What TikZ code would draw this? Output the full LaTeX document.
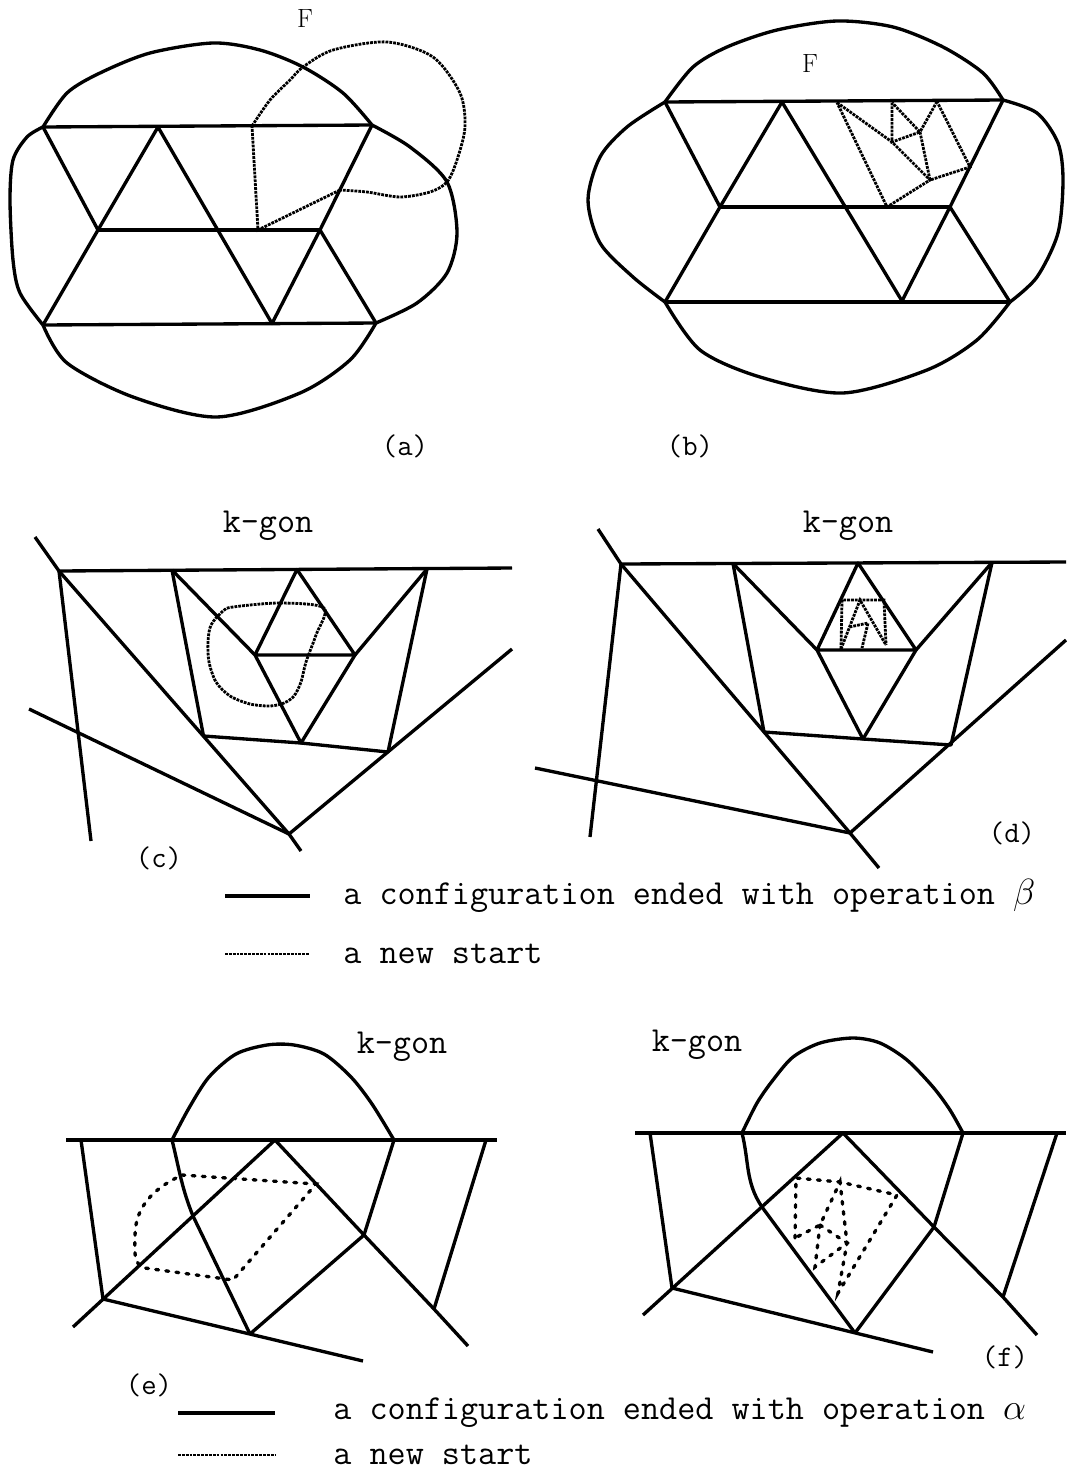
\documentclass[tikz,border=0pt]{standalone}
\usepackage{tikz}
\usetikzlibrary{positioning}
\tikzset{
  cfgedge/.style={line width=1.9pt,line join=round},
  newedge/.style={line width=1.6pt,dash pattern=on 1.6pt off 0.6pt},
  newdash/.style={line width=1.9pt,dash pattern=on 1.6pt off 4.2pt,line cap=round},
  txtnode/.style={font=\ttfamily\fontsize{20}{24}\selectfont,inner sep=0pt},
  subnode/.style={font=\ttfamily\fontsize{17}{20}\selectfont,inner sep=0pt},
  facenode/.style={font=\rmfamily\fontsize{15}{18}\selectfont,inner sep=0pt},
}
\begin{document}
\begin{tikzpicture}
  \useasboundingbox (0,0) rectangle (21.32,-29.50);
  % (a)
  \coordinate (aTL) at (0.86,-2.54);
  \coordinate (aTR) at (7.44,-2.50);
  \coordinate (aBL) at (0.86,-6.50);
  \coordinate (aBR) at (7.52,-6.46);
  \coordinate (aT1) at (3.16,-2.54);
  \coordinate (aT2) at (5.04,-2.52);
  \coordinate (aM1) at (1.96,-4.60);
  \coordinate (aM3) at (6.40,-4.60);
  \coordinate (aD) at (5.16,-4.60);
  \coordinate (aB1) at (5.44,-6.47);
  \coordinate (aX) at (6.80,-3.80);
  \draw[cfgedge] (aTL) -- (aTR);
  \draw[cfgedge] (aM1) -- (aM3);
  \draw[cfgedge] (aBL) -- (aBR);
  \draw[cfgedge] (aTL) -- (aM1) -- (aT1) -- (aB1) -- (aM3) -- (aTR);
  \draw[cfgedge] (aM1) -- (aBL);
  \draw[cfgedge] (aM3) -- (aBR);
  \draw[cfgedge] plot[smooth] coordinates {(aTL) (1.34,-1.86) (2.00,-1.46) (3.00,-1.06) (4.26,-0.86) (5.20,-1.00) (6.06,-1.34) (6.86,-1.86) (aTR)};
  \draw[cfgedge] plot[smooth] coordinates {(aTR) (8.20,-2.94) (8.94,-3.64) (9.14,-4.66) (8.94,-5.46) (8.34,-6.06) (aBR)};
  \draw[cfgedge] plot[smooth] coordinates {(aBR) (7.00,-7.20) (6.00,-7.86) (4.34,-8.34) (2.66,-7.94) (1.34,-7.26) (aBL)};
  \draw[cfgedge] plot[smooth] coordinates {(aBL) (0.40,-5.86) (0.26,-5.20) (0.20,-4.00) (0.26,-3.20) (0.54,-2.74) (aTL)};
  \draw[newedge] plot[smooth] coordinates {(aT2) (5.40,-2.00) (5.80,-1.60) (6.06,-1.34) (6.66,-1.00) (7.74,-0.84) (8.66,-1.14) (9.20,-1.86) (9.30,-2.54) (9.14,-3.20) (8.94,-3.64) (8.60,-3.84) (8.00,-3.94) (7.34,-3.84) (aX)};
  \draw[newedge] (aX) -- (aD) -- (aT2);
  \node[facenode] (aF) at (6.10,-0.38) {F};
  \node[subnode] (alab) at (8.10,-8.92) {(a)};
  % (b)
  \coordinate (bTL) at (13.30,-2.04);
  \coordinate (bTR) at (20.06,-2.00);
  \coordinate (bBL) at (13.30,-6.04);
  \coordinate (bBR) at (20.20,-6.04);
  \coordinate (bT1) at (15.64,-2.04);
  \coordinate (bM1) at (14.40,-4.14);
  \coordinate (bM3) at (19.00,-4.14);
  \coordinate (bB1) at (18.04,-6.02);
  \draw[cfgedge] (bTL) -- (bTR);
  \draw[cfgedge] (bM1) -- (bM3);
  \draw[cfgedge] (bBL) -- (bBR);
  \draw[cfgedge] (bTL) -- (bM1) -- (bT1) -- (bB1) -- (bM3) -- (bTR);
  \draw[cfgedge] (bM1) -- (bBL);
  \draw[cfgedge] (bM3) -- (bBR);
  \draw[cfgedge] plot[smooth] coordinates {(bTL) (13.86,-1.34) (14.54,-0.94) (15.54,-0.60) (16.74,-0.42) (17.86,-0.54) (18.86,-0.94) (19.66,-1.46) (bTR)};
  \draw[cfgedge] plot[smooth] coordinates {(bTL) (12.54,-2.54) (12.00,-3.14) (11.76,-4.00) (12.00,-4.86) (12.66,-5.54) (bBL)};
  \draw[cfgedge] plot[smooth] coordinates {(bTR) (20.74,-2.26) (21.16,-2.86) (21.26,-3.60) (21.16,-4.66) (20.74,-5.54) (bBR)};
  \draw[cfgedge] plot[smooth] coordinates {(bBR) (19.54,-6.80) (18.54,-7.40) (16.86,-7.86) (15.20,-7.54) (14.00,-7.00) (bBL)};
  \coordinate (bP1) at (16.74,-2.05);
  \coordinate (bP2) at (17.84,-2.05);
  \coordinate (bP3) at (18.74,-2.03);
  \coordinate (bQ1) at (17.84,-2.84);
  \coordinate (bQ2) at (18.40,-2.64);
  \coordinate (bR1) at (18.60,-3.60);
  \coordinate (bR2) at (19.40,-3.34);
  \coordinate (bS) at (17.74,-4.14);
  \draw[newedge] (bP1) -- (bQ1) -- (bR1) -- (bS) -- (bP1);
  \draw[newedge] (bP2) -- (bQ1) -- (bQ2) -- (bP2);
  \draw[newedge] (bP3) -- (bQ2) -- (bR1) -- (bR2) -- (bP3);
  \node[facenode] (bF) at (16.20,-1.28) {F};
  \node[subnode] (blab) at (13.80,-8.92) {(b)};
  % (c)
  \coordinate (cS) at (0.70,-10.74);
  \coordinate (cV1) at (1.18,-11.42);
  \coordinate (cE) at (10.24,-11.36);
  \coordinate (cLB) at (1.82,-16.82);
  \coordinate (cVb) at (5.78,-16.68);
  \coordinate (cVx) at (6.02,-17.02);
  \coordinate (cRE) at (10.24,-12.98);
  \coordinate (cLS) at (0.58,-14.18);
  \coordinate (cV2) at (3.44,-11.40);
  \coordinate (cW1) at (4.07,-14.72);
  \coordinate (cV3) at (5.94,-11.39);
  \coordinate (cL) at (5.10,-13.10);
  \coordinate (cR) at (7.10,-13.10);
  \coordinate (cW2) at (6.02,-14.86);
  \coordinate (cV4) at (8.54,-11.38);
  \coordinate (cW3) at (7.76,-15.04);
  \draw[cfgedge] (cS) -- (cV1) -- (cE);
  \draw[cfgedge] (cV1) -- (cLB);
  \draw[cfgedge] (cV1) -- (cVb) -- (cVx);
  \draw[cfgedge] (cLS) -- (cVb) -- (cRE);
  \draw[cfgedge] (cV2) -- (cW1) -- (cW2) -- (cW3) -- (cV4);
  \draw[cfgedge] (cV2) -- (cL) -- (cW2) -- (cR) -- (cV4);
  \draw[cfgedge] (cL) -- (cV3) -- (cR) -- (cL);
  \draw[newedge] plot[smooth cycle] coordinates {(4.66,-12.14) (5.60,-12.06) (6.48,-12.16) (6.32,-12.70) (6.12,-13.24) (6.02,-13.64) (5.88,-13.92) (5.68,-14.06) (5.40,-14.12) (5.00,-14.08) (4.60,-13.92) (4.32,-13.64) (4.18,-13.24) (4.16,-12.84) (4.22,-12.50) (4.46,-12.22)};
  \node[txtnode] (ckgon) at (5.36,-10.52) {k-gon};
  \node[subnode] (clab) at (3.18,-17.16) {(c)};
  % (d)
  \coordinate (dS) at (11.96,-10.58);
  \coordinate (dV1) at (12.42,-11.28);
  \coordinate (dE) at (21.32,-11.24);
  \coordinate (dLB) at (11.80,-16.74);
  \coordinate (dVb) at (17.00,-16.66);
  \coordinate (dVx) at (17.58,-17.36);
  \coordinate (dRE) at (21.32,-12.80);
  \coordinate (dLS) at (10.70,-15.36);
  \coordinate (dV2) at (14.66,-11.27);
  \coordinate (dW1) at (15.28,-14.64);
  \coordinate (dV3) at (17.16,-11.26);
  \coordinate (dL) at (16.34,-13.00);
  \coordinate (dR) at (18.32,-13.00);
  \coordinate (dW2) at (17.26,-14.78);
  \coordinate (dV4) at (19.84,-11.25);
  \coordinate (dW3) at (19.02,-14.90);
  \draw[cfgedge] (dS) -- (dV1) -- (dE);
  \draw[cfgedge] (dV1) -- (dLB);
  \draw[cfgedge] (dV1) -- (dVb) -- (dVx);
  \draw[cfgedge] (dLS) -- (dVb) -- (dRE);
  \draw[cfgedge] (dV2) -- (dW1) -- (dW2) -- (dW3) -- (dV4);
  \draw[cfgedge] (dV2) -- (dL) -- (dW2) -- (dR) -- (dV4);
  \draw[cfgedge] (dL) -- (dV3) -- (dR) -- (dL);
  \coordinate (dTL) at (16.84,-12.00);
  \coordinate (dTR) at (17.68,-12.00);
  \coordinate (dBL) at (16.82,-12.98);
  \coordinate (dBR) at (17.72,-12.90);
  \coordinate (da) at (17.20,-12.00);
  \coordinate (db) at (17.36,-12.46);
  \coordinate (dc) at (17.24,-12.96);
  \coordinate (df) at (16.99,-12.54);
  \draw[newedge] (dBL) -- (dTL) -- (dTR) -- (dBR);
  \draw[newedge] (dBL) -- (da) -- (dBR);
  \draw[newedge] (df) -- (db) -- (dc);
  \node[txtnode] (dkgon) at (16.96,-10.52) {k-gon};
  \node[subnode] (dlab) at (20.24,-16.66) {(d)};
  % legend beta
  \coordinate (lb1) at (4.50,-17.92);
  \coordinate (lb2) at (6.20,-17.92);
  \coordinate (lb3) at (4.50,-19.08);
  \coordinate (lb4) at (6.20,-19.08);
  \draw[cfgedge] (lb1) -- (lb2);
  \draw[newedge] (lb3) -- (lb4);
  \node[txtnode,anchor=west] (lbt1) at (6.86,-17.92) {a configuration ended with operation $\beta$};
  \node[txtnode,anchor=west] (lbt2) at (6.86,-19.08) {a new start};
  % (e)
  \coordinate (eS) at (1.32,-22.80);
  \coordinate (eE) at (9.94,-22.80);
  \coordinate (eAL) at (3.44,-22.80);
  \coordinate (eAR) at (7.88,-22.80);
  \coordinate (eLV) at (1.62,-22.80);
  \coordinate (eP) at (2.06,-25.98);
  \coordinate (eStub) at (1.46,-26.54);
  \coordinate (eQ) at (5.50,-22.80);
  \coordinate (eX1) at (3.86,-24.32);
  \coordinate (eB) at (5.00,-26.68);
  \coordinate (eBE) at (7.26,-27.22);
  \coordinate (eC) at (7.28,-24.70);
  \coordinate (eD) at (8.68,-26.18);
  \coordinate (eDE) at (9.36,-26.92);
  \coordinate (eRV) at (9.72,-22.80);
  \draw[cfgedge] (eS) -- (eE);
  \draw[cfgedge] plot[smooth] coordinates {(eAL) (3.78,-22.16) (4.18,-21.54) (4.72,-21.08) (5.34,-20.90) (5.88,-20.90) (6.48,-21.08) (7.02,-21.54) (7.44,-22.08) (eAR)};
  \draw[cfgedge] (eLV) -- (eP);
  \draw[cfgedge] (eQ) -- (eStub);
  \draw[cfgedge] (eP) -- (eBE);
  \draw[cfgedge] (eAL) to[out=-76,in=112] (eX1) -- (eB);
  \draw[cfgedge] (eQ) -- (eC) -- (eD) -- (eDE);
  \draw[cfgedge] (eAR) -- (eC) -- (eB);
  \draw[cfgedge] (eRV) -- (eD);
  \coordinate (ed1) at (3.64,-23.50);
  \coordinate (ed2) at (6.32,-23.68);
  \coordinate (ed3) at (4.66,-25.60);
  \coordinate (ed4) at (2.90,-25.36);
  \draw[newdash] (ed1) -- (ed2) -- (ed3) -- (ed4) to[out=165,in=-90] (2.70,-24.72) to[out=90,in=205] (ed1);
  \node[txtnode] (ekgon) at (8.04,-20.94) {k-gon};
  \node[subnode] (elab) at (2.98,-27.70) {(e)};
  % (f)
  \coordinate (fS) at (12.70,-22.66);
  \coordinate (fE) at (21.32,-22.66);
  \coordinate (fAL) at (14.84,-22.66);
  \coordinate (fAR) at (19.26,-22.66);
  \coordinate (fLV) at (13.00,-22.66);
  \coordinate (fP) at (13.44,-25.76);
  \coordinate (fStub) at (12.86,-26.30);
  \coordinate (fQ) at (16.86,-22.66);
  \coordinate (fX1) at (15.24,-24.14);
  \coordinate (fB) at (17.10,-26.66);
  \coordinate (fBE) at (18.66,-27.04);
  \coordinate (fC) at (18.68,-24.54);
  \coordinate (fD) at (20.06,-25.94);
  \coordinate (fDE) at (20.74,-26.70);
  \coordinate (fRV) at (21.14,-22.66);
  \draw[cfgedge] (fS) -- (fE);
  \draw[cfgedge] plot[smooth] coordinates {(fAL) (15.14,-22.06) (15.46,-21.60) (15.86,-21.14) (16.40,-20.86) (17.06,-20.76) (17.60,-20.86) (18.14,-21.20) (18.66,-21.74) (19.00,-22.20) (fAR)};
  \draw[cfgedge] (fLV) -- (fP);
  \draw[cfgedge] (fQ) -- (fStub);
  \draw[cfgedge] (fP) -- (fBE);
  \draw[cfgedge] (fAL) to[out=-76,in=124] (fX1) -- (fB);
  \draw[cfgedge] (fQ) -- (fC) -- (fD) -- (fDE);
  \draw[cfgedge] (fAR) -- (fC) -- (fB);
  \draw[cfgedge] (fRV) -- (fD);
  \coordinate (ft1) at (15.92,-23.56);
  \coordinate (ft2) at (16.80,-23.64);
  \coordinate (ft3) at (17.94,-23.90);
  \coordinate (fbt) at (16.76,-25.86);
  \coordinate (fm1) at (16.40,-24.50);
  \coordinate (flb) at (15.90,-24.76);
  \coordinate (fmr) at (16.94,-24.86);
  \coordinate (fll) at (16.30,-25.34);
  \draw[newdash] (flb) -- (ft1) -- (ft2) -- (ft3) -- (fbt) -- (fmr) -- (ft2) -- (fm1) -- (flb);
  \draw[newdash] (fm1) -- (fmr) -- (fll) -- (fm1);
  \node[txtnode] (fkgon) at (13.94,-20.90) {k-gon};
  \node[subnode] (flab) at (20.10,-27.14) {(f)};
  % legend alpha
  \coordinate (la1) at (3.56,-28.26);
  \coordinate (la2) at (5.50,-28.26);
  \coordinate (la3) at (3.56,-29.10);
  \coordinate (la4) at (5.50,-29.10);
  \draw[cfgedge] (la1) -- (la2);
  \draw[newedge] (la3) -- (la4);
  \node[txtnode,anchor=west] (lat1) at (6.66,-28.26) {a configuration ended with operation $\alpha$};
  \node[txtnode,anchor=west] (lat2) at (6.66,-29.10) {a new start};
\end{tikzpicture}
\end{document}
